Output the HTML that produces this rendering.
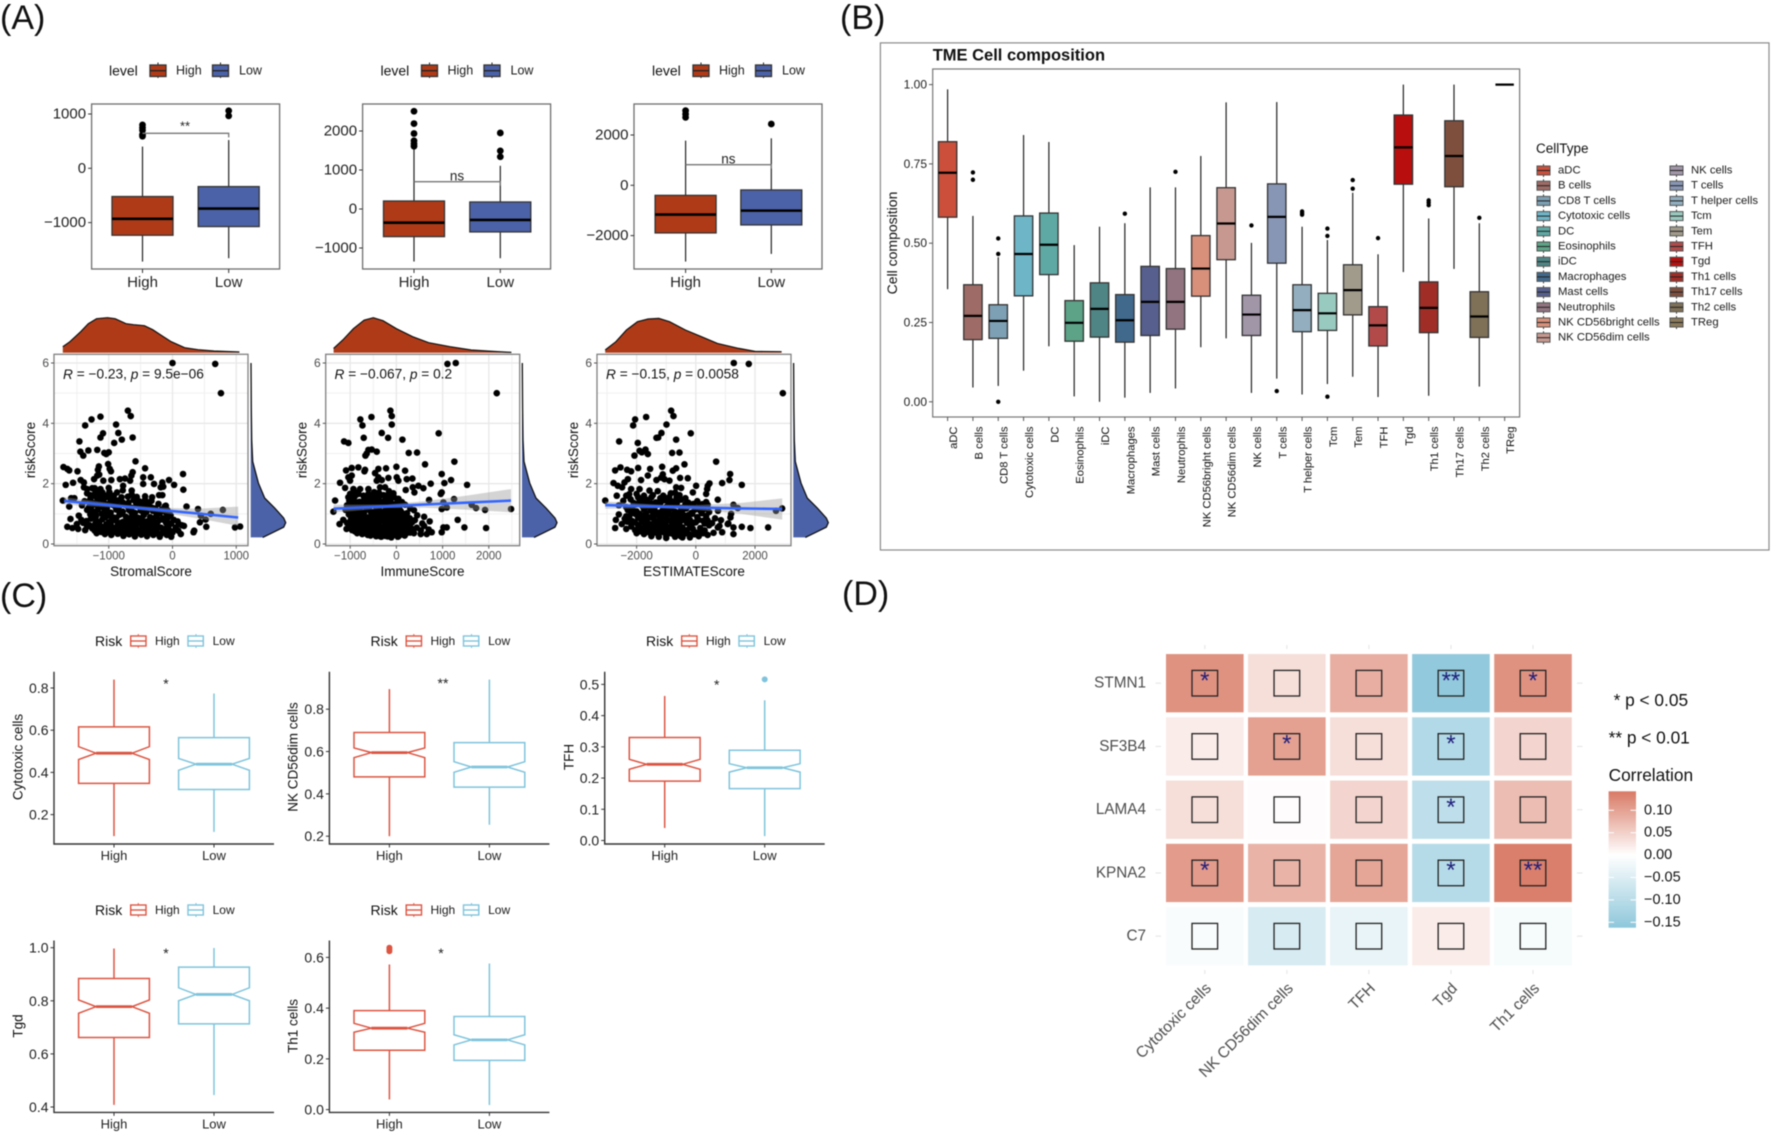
<!DOCTYPE html>
<html lang="en">
<head>
<meta charset="utf-8">
<title>TME composition figure</title>
<style>
html,body{margin:0;padding:0;background:#fff}
body{width:1772px;height:1134px;overflow:hidden}
svg{display:block;font-family:"Liberation Sans",Arial,sans-serif;filter:blur(.4px)}
text{dominant-baseline:central}
.lg{font-size:12.5px;fill:#1a1a1a}
.lc{font-size:12px;fill:#1a1a1a}
.lt{font-size:14px;fill:#111}
.pl{font-size:34px;fill:#111}
.ax{font-size:13.5px;fill:#111}
.rv{font-size:13.7px;fill:#111}
</style>
</head>
<body>
<svg id="figure" width="1772" height="1134" viewBox="0 0 1772 1134" xmlns="http://www.w3.org/2000/svg">
<defs>
<linearGradient id="corr-gradient" x1="0" y1="0" x2="0" y2="1">
<stop offset="0" stop-color="#D97A65"/><stop offset="0.467" stop-color="#ffffff"/><stop offset="1" stop-color="#8EC7DB"/>
</linearGradient>
</defs>
<rect width="1772" height="1134" fill="#fff"/>

<text class="pl" x="0" y="18">(A)</text>
<text class="pl" x="840" y="18">(B)</text>
<text class="pl" x="0" y="596">(C)</text>
<text class="pl" x="842" y="594">(D)</text>

<!-- Panel A legends -->
<g>
<text class="lt" x="109" y="70.7">level</text>
<line x1="158" x2="158" y1="62.5" y2="78" stroke="#222"/><rect x="150" y="65" width="16" height="11.5" fill="#AF3A17" stroke="#333" stroke-width="1.3"/><line x1="150" x2="166" y1="70.7" y2="70.7" stroke="#222" stroke-width="1.3"/>
<text class="lg" x="176" y="70.7">High</text>
<line x1="220.5" x2="220.5" y1="62.5" y2="78" stroke="#222"/><rect x="212.5" y="65" width="16" height="11.5" fill="#4C62A8" stroke="#333" stroke-width="1.3"/><line x1="212.5" x2="228.5" y1="70.7" y2="70.7" stroke="#222" stroke-width="1.3"/>
<text class="lg" x="239" y="70.7">Low</text>
</g>
<g transform="translate(271.5,0)">
<text class="lt" x="109" y="70.7">level</text>
<line x1="158" x2="158" y1="62.5" y2="78" stroke="#222"/><rect x="150" y="65" width="16" height="11.5" fill="#AF3A17" stroke="#333" stroke-width="1.3"/><line x1="150" x2="166" y1="70.7" y2="70.7" stroke="#222" stroke-width="1.3"/>
<text class="lg" x="176" y="70.7">High</text>
<line x1="220.5" x2="220.5" y1="62.5" y2="78" stroke="#222"/><rect x="212.5" y="65" width="16" height="11.5" fill="#4C62A8" stroke="#333" stroke-width="1.3"/><line x1="212.5" x2="228.5" y1="70.7" y2="70.7" stroke="#222" stroke-width="1.3"/>
<text class="lg" x="239" y="70.7">Low</text>
</g>
<g transform="translate(543,0)">
<text class="lt" x="109" y="70.7">level</text>
<line x1="158" x2="158" y1="62.5" y2="78" stroke="#222"/><rect x="150" y="65" width="16" height="11.5" fill="#AF3A17" stroke="#333" stroke-width="1.3"/><line x1="150" x2="166" y1="70.7" y2="70.7" stroke="#222" stroke-width="1.3"/>
<text class="lg" x="176" y="70.7">High</text>
<line x1="220.5" x2="220.5" y1="62.5" y2="78" stroke="#222"/><rect x="212.5" y="65" width="16" height="11.5" fill="#4C62A8" stroke="#333" stroke-width="1.3"/><line x1="212.5" x2="228.5" y1="70.7" y2="70.7" stroke="#222" stroke-width="1.3"/>
<text class="lg" x="239" y="70.7">Low</text>
</g>

<!-- Panel C legends -->
<g>
<text class="lt" x="95" y="641">Risk</text>
<line x1="138.3" x2="138.3" y1="634" y2="648" stroke="#E0604E"/><rect x="130.7" y="636" width="15.3" height="10" fill="#fff" stroke="#DC5542" stroke-width="1.4"/><line x1="130.7" x2="146" y1="641" y2="641" stroke="#DC5542" stroke-width="1.4"/>
<text class="lc" x="155" y="641">High</text>
<line x1="196" x2="196" y1="634" y2="648" stroke="#7FC4DC"/><rect x="188" y="636" width="15.3" height="10" fill="#fff" stroke="#7FC4DC" stroke-width="1.4"/><line x1="188" x2="203.3" y1="641" y2="641" stroke="#7FC4DC" stroke-width="1.4"/>
<text class="lc" x="212.6" y="641">Low</text>
</g>
<g transform="translate(275.5,0)">
<text class="lt" x="95" y="641">Risk</text>
<line x1="138.3" x2="138.3" y1="634" y2="648" stroke="#E0604E"/><rect x="130.7" y="636" width="15.3" height="10" fill="#fff" stroke="#DC5542" stroke-width="1.4"/><line x1="130.7" x2="146" y1="641" y2="641" stroke="#DC5542" stroke-width="1.4"/>
<text class="lc" x="155" y="641">High</text>
<line x1="196" x2="196" y1="634" y2="648" stroke="#7FC4DC"/><rect x="188" y="636" width="15.3" height="10" fill="#fff" stroke="#7FC4DC" stroke-width="1.4"/><line x1="188" x2="203.3" y1="641" y2="641" stroke="#7FC4DC" stroke-width="1.4"/>
<text class="lc" x="212.6" y="641">Low</text>
</g>
<g transform="translate(551,0)">
<text class="lt" x="95" y="641">Risk</text>
<line x1="138.3" x2="138.3" y1="634" y2="648" stroke="#E0604E"/><rect x="130.7" y="636" width="15.3" height="10" fill="#fff" stroke="#DC5542" stroke-width="1.4"/><line x1="130.7" x2="146" y1="641" y2="641" stroke="#DC5542" stroke-width="1.4"/>
<text class="lc" x="155" y="641">High</text>
<line x1="196" x2="196" y1="634" y2="648" stroke="#7FC4DC"/><rect x="188" y="636" width="15.3" height="10" fill="#fff" stroke="#7FC4DC" stroke-width="1.4"/><line x1="188" x2="203.3" y1="641" y2="641" stroke="#7FC4DC" stroke-width="1.4"/>
<text class="lc" x="212.6" y="641">Low</text>
</g>
<g transform="translate(0,269)">
<text class="lt" x="95" y="641">Risk</text>
<line x1="138.3" x2="138.3" y1="634" y2="648" stroke="#E0604E"/><rect x="130.7" y="636" width="15.3" height="10" fill="#fff" stroke="#DC5542" stroke-width="1.4"/><line x1="130.7" x2="146" y1="641" y2="641" stroke="#DC5542" stroke-width="1.4"/>
<text class="lc" x="155" y="641">High</text>
<line x1="196" x2="196" y1="634" y2="648" stroke="#7FC4DC"/><rect x="188" y="636" width="15.3" height="10" fill="#fff" stroke="#7FC4DC" stroke-width="1.4"/><line x1="188" x2="203.3" y1="641" y2="641" stroke="#7FC4DC" stroke-width="1.4"/>
<text class="lc" x="212.6" y="641">Low</text>
</g>
<g transform="translate(275.5,269)">
<text class="lt" x="95" y="641">Risk</text>
<line x1="138.3" x2="138.3" y1="634" y2="648" stroke="#E0604E"/><rect x="130.7" y="636" width="15.3" height="10" fill="#fff" stroke="#DC5542" stroke-width="1.4"/><line x1="130.7" x2="146" y1="641" y2="641" stroke="#DC5542" stroke-width="1.4"/>
<text class="lc" x="155" y="641">High</text>
<line x1="196" x2="196" y1="634" y2="648" stroke="#7FC4DC"/><rect x="188" y="636" width="15.3" height="10" fill="#fff" stroke="#7FC4DC" stroke-width="1.4"/><line x1="188" x2="203.3" y1="641" y2="641" stroke="#7FC4DC" stroke-width="1.4"/>
<text class="lc" x="212.6" y="641">Low</text>
</g>

<!-- Panel B static text -->
<rect x="880.4" y="42.9" width="888.6" height="507.1" fill="none" stroke="#8a8a8a" stroke-width="1.2"/>
<text x="932.7" y="55.5" font-size="16.5" font-weight="bold" fill="#111">TME Cell composition</text>
<text transform="translate(892,243) rotate(-90)" font-size="14" fill="#111" text-anchor="middle">Cell composition</text>
<text x="1536" y="148.6" font-size="13.5" fill="#111">CellType</text>

<!-- Panel C axis titles -->
<text class="ax" transform="translate(18,757) rotate(-90)" text-anchor="middle">Cytotoxic cells</text>
<text class="ax" transform="translate(293,757) rotate(-90)" text-anchor="middle">NK CD56dim cells</text>
<text class="ax" transform="translate(569,757) rotate(-90)" text-anchor="middle">TFH</text>
<text class="ax" transform="translate(18,1026) rotate(-90)" text-anchor="middle">Tgd</text>
<text class="ax" transform="translate(293,1026) rotate(-90)" text-anchor="middle">Th1 cells</text>

<!-- Panel D legend text -->
<text x="1613.6" y="700" font-size="17.3" fill="#111">* p &lt; 0.05</text>
<text x="1608.6" y="737.7" font-size="17.3" fill="#111">** p &lt; 0.01</text>
<text x="1608.6" y="775" font-size="17.3" fill="#111">Correlation</text>
<rect x="1608.6" y="791.3" width="27.4" height="136.4" fill="url(#corr-gradient)"/>

<!-- Scatter axis labels -->
<text class="ax" x="151" y="571.7" text-anchor="middle">StromalScore</text>
<text class="ax" x="422.5" y="571.7" text-anchor="middle">ImmuneScore</text>
<text class="ax" x="694" y="571.7" text-anchor="middle">ESTIMATEScore</text>
<text class="ax" transform="translate(30.5,450) rotate(-90)" text-anchor="middle">riskScore</text>
<text class="ax" transform="translate(302,450) rotate(-90)" text-anchor="middle">riskScore</text>
<text class="ax" transform="translate(573.5,450) rotate(-90)" text-anchor="middle">riskScore</text>

<g id="charts"></g>

<text x="185" y="126" font-size="13" text-anchor="middle" fill="#222">**</text>
<text x="457" y="176" font-size="13.5" text-anchor="middle" fill="#222">ns</text>
<text x="728.4" y="159" font-size="13.5" text-anchor="middle" fill="#222">ns</text>

<text class="rv" x="63" y="374"><tspan font-style="italic">R</tspan> = −0.23, <tspan font-style="italic">p</tspan> = 9.5e−06</text>
<text class="rv" x="334.5" y="374"><tspan font-style="italic">R</tspan> = −0.067, <tspan font-style="italic">p</tspan> = 0.2</text>
<text class="rv" x="606" y="374"><tspan font-style="italic">R</tspan> = −0.15, <tspan font-style="italic">p</tspan> = 0.0058</text>
</svg>

<script>
// ---------- Panel A: boxplots (whisker low, q1, median, q3, whisker high) ----------
const levelCategories = ['High', 'Low'];
const stromalHighBox = [-1718, -1233, -930, -520, 400];
const stromalLowBox = [-1656, -1073, -742, -337, 520];
const stromalHighOutliers = [800, 750, 700, 620, 590];
const stromalLowOutliers = [1060, 965];
const stromalTicks = [-1000, 0, 1000];
const stromalBracket = 644;
const immuneHighBox = [-1347, -708, -350, 205, 1550];
const immuneLowBox = [-1262, -588, -280, 180, 1108];
const immuneHighOutliers = [2506, 2190, 1935, 1750, 1680, 1610];
const immuneLowOutliers = [1950, 1490, 1340];
const immuneTicks = [-1000, 0, 1000, 2000];
const immuneBracket = 700;
const estimateHighBox = [-3033, -1894, -1165, -400, 1775];
const estimateLowBox = [-2728, -1576, -1007, -185, 1868];
const estimateHighOutliers = [2967, 2834, 2700];
const estimateLowOutliers = [2437];
const estimateTicks = [-2000, 0, 2000];
const estimateBracket = 820;

// ---------- Panel A: scatter values [score, riskScore] ----------
const stromalPoints = [[0,6],[670,5.97],[760,5],[-700,4.42],[-655,4.24],[-1130,4.22],[-1270,4.13],[-1370,3.93],[-885,3.96],[-850,3.68],[-1090,3.67],[-1130,3.53],[-625,3.53],[-795,3.46],[-915,3.35],[-1460,3.4],[-1445,3.06],[-1400,2.93],[-1320,3.1],[-1180,3.12],[-1070,3.02],[-1040,2.98],[-1000,3.04],[-580,2.74],[-1710,2.55],[-1650,2.49],[-1620,2.44],[-1490,2.41],[-1155,2.57],[-1170,2.46],[-1010,2.65],[-985,2.49],[-965,2.41],[-430,2.51],[165,2.32],[-625,2.38],[-645,2.27],[-1675,1.96],[-1560,2.03],[-1440,2.12],[-1390,2.04],[-1230,2.15],[-1180,2.27],[-1150,2.3],[-1085,2.1],[-960,2.12],[-825,2.15],[-745,2.17],[-665,2.1],[-775,1.93],[-460,2.21],[-340,2.21],[-460,1.99],[-160,2.04],[-55,2.12],[25,1.96],[-290,1.99],[-185,1.88],[-145,1.9],[170,1.8],[-210,1.62],[-160,1.62],[-640,1.77],[-640,1.64],[-1390,1.88],[-1340,1.82],[-1260,1.85],[-1130,1.82],[-1000,1.86],[-870,1.71],[-920,1.6],[-1340,1.68],[-1210,1.71],[-1100,1.71],[-1280,1.57],[-1170,1.55],[-1030,1.6],[-1540,1.52],[-1590,1.52],[-1720,1.44],[-1620,1.24],[-1600,.83],[-1470,.94],[-1650,.57],[-1570,.53],[220,1.24],[400,1.16],[600,1],[790,1.13],[445,.94],[520,.81],[430,.72],[530,.57],[330,.39],[-20,.24],[130,.33],[100,.66],[180,.6],[50,.55],[980,.55],[1060,.58],[-105,1.27],[-105,1.05],[340,.44],
[-1380,1.42],[-1290,1.48],[-1190,1.39],[-1090,1.45],[-980,1.37],[-860,1.44],[-610,1.46],[-520,1.41],[-430,1.47],[-330,1.43],[-1420,1.28],[-1310,1.22],[-1220,1.31],[-1120,1.26],[-1030,1.19],[-940,1.3],[-840,1.24],[-740,1.29],[-640,1.2],[-540,1.27],[-450,1.22],[-370,1.3],[-270,1.18],[-120,1.25],[-1340,1.13],[-1250,1.08],[-1170,1.15],[-1060,1.1],[-970,1.04],[-880,1.14],[-780,1.07],[-680,1.12],[-590,1.03],[-500,1.11],[-410,1.06],[-310,1.1],[-200,1.02],[-80,1.12],[-1290,.98],[-1200,.92],[-1110,1],[-1020,.94],[-930,.88],[-830,.97],[-730,.9],[-630,.95],[-540,.87],[-450,.96],[-350,.89],[-250,.93],[-150,.85],[-30,.95],[-1430,.8],[-1280,.84],[-1190,.76],[-1100,.82],[-1000,.72],[-900,.79],[-820,.7],[-720,.78],[-620,.74],[-530,.81],[-430,.71],[-340,.77],[-240,.69],[-130,.79],[-20,.68],[80,.75],[-1500,.66],[-1400,.7],[-1300,.62],[-1210,.68],[-1120,.58],[-1040,.65],[-950,.56],[-860,.63],[-760,.55],[-660,.61],[-570,.53],[-480,.62],[-390,.56],[-290,.63],[-180,.54],[-60,.6],[50,.52],[150,.62],[-1480,.5],[-1370,.46],[-1260,.52],[-1180,.43],[-1090,.49],[-1000,.41],[-910,.48],[-810,.4],[-720,.46],[-620,.38],[-530,.45],[-440,.37],[-330,.44],[-240,.36],[-130,.45],[0,.38],[90,.44],[-1190,.36],[-1060,.33],[-960,.3],[-860,.34],[-770,.27],[-680,.32],[-590,.25],[-490,.31],[-400,.26],[-300,.3],[-200,.24],[-90,.3],[-950,.8],[-850,.55],[-750,.65],[-650,.48],[-550,.7],[-450,.55],[-350,.6],[-250,.5],[-1000,.62],[-800,1],[-700,.55],[-600,.85],[-500,.4],[-400,.75],[-300,.85],[-850,.4],
[-1250,1.36],[-1150,1.33],[-1040,1.32],[-900,1.36],[-780,1.38],[-690,1.37],[-570,1.35],[-480,1.34],[-390,1.36],[-220,1.33],[-1280,1.2],[-1080,1.2],[-890,1.22],[-690,1.21],[-500,1.19],[-320,1.2],[-170,1.14],[-1210,1.03],[-1010,1.05],[-830,1.05],[-640,1.04],[-450,1.02],[-260,1.05],[-90,1.02],[-1240,.88],[-1060,.88],[-880,.87],[-690,.84],[-490,.85],[-300,.76],[-80,.85],[20,.8],[-1350,.76],[-1150,.7],[-970,.66],[-780,.73],[-670,.68],[-470,.78],[-200,.8],[-100,.7],[-1340,.58],[-1170,.58],[-1050,.52],[-880,.48],[-680,.52],[-600,.63],[-440,.47],[-280,.56],[-100,.52],[-1220,.44],[-1120,.4],[-1020,.52],[-770,.38],[-580,.32],[-380,.36],[-180,.34],[-40,.44],[-950,.38],[-700,.4],[-1290,1.62],[-1210,1.58],[-1130,1.52],[-1060,1.53],[-980,1.52],[-800,1.55],[-700,1.57],[-560,1.56],[-430,1.58],[-320,1.55],[-1220,1.85],[-1130,1.7],[-780,1.78],[-990,1.72],[-900,1.45]];
const immunePoints = [[1105,5.97],[1285,6],[2172,5],[-130,4.42],[-100,4.24],[-540,4.21],[-780,4.13],[-735,3.93],[-100,3.96],[915,3.67],[-317,3.68],[-707,3.52],[-180,3.52],[130,3.46],[-1133,3.4],[-1040,3.35],[-606,3.12],[-534,3.13],[-425,3.06],[-642,3],[-670,2.93],[267,3.02],[447,3.03],[1255,2.73],[620,2.64],[0,2.56],[-967,2.52],[-823,2.54],[-1090,2.44],[-678,2.46],[-692,2.41],[-390,2.49],[-224,2.51],[-462,2.35],[188,2.43],[981,2.32],[-967,2.27],[-1040,2.21],[-1220,2.03],[-1003,2.1],[-390,2.21],[-173,2.19],[-317,2.12],[-425,2.1],[7,2.21],[43,2.1],[224,2.15],[346,2.17],[1183,2.12],[1039,2.02],[743,2],[476,1.93],[584,1.85],[354,1.88],[202,1.79],[390,1.71],[981,1.71],[960,1.66],[1530,1.96],[-65,1.68],[-245,1.88],[-354,1.88],[-606,1.82],[-786,1.82],[-930,1.82],[-1110,1.86],[-1003,1.66],[-1040,1.55],[-1327,1.44],[-1363,1.07],[-606,1.66],[-714,1.6],[-820,1.66],[-245,1.6],[-136,1.44],[43,1.5],[1248,1.49],[1017,1.38],[707,1.46],[1630,1.3],[1724,1.19],[1919,1.13],[2482,1.16],[1327,.8],[1472,.55],[1941,.53],[1090,.55],[981,.39],[1017,.55],[981,1.16],[1090,1.21],[765,.39],[657,.33],[527,.33],
[-1020,1.43],[-930,1.48],[-800,1.4],[-700,1.46],[-600,1.38],[-480,1.45],[-350,1.41],[-240,1.47],[-120,1.37],[30,1.42],[120,1.39],[-1070,1.28],[-960,1.22],[-870,1.31],[-760,1.25],[-650,1.19],[-560,1.3],[-440,1.23],[-320,1.29],[-200,1.2],[-80,1.27],[60,1.22],[190,1.3],[300,1.18],[-1100,1.13],[-1000,1.08],[-900,1.15],[-790,1.1],[-700,1.04],[-590,1.14],[-470,1.07],[-370,1.12],[-260,1.03],[-140,1.11],[-30,1.06],[90,1.1],[230,1.02],[380,1.12],[-1030,.98],[-930,.92],[-830,1],[-730,.94],[-620,.88],[-520,.97],[-400,.9],[-290,.95],[-190,.87],[-70,.96],[50,.89],[180,.93],[290,.85],[450,.95],[600,.9],[-1150,.8],[-980,.84],[-870,.76],[-770,.82],[-670,.72],[-560,.79],[-450,.7],[-350,.78],[-230,.74],[-120,.81],[-10,.71],[120,.77],[250,.69],[400,.79],[560,.68],[720,.75],[-1230,.66],[-1070,.7],[-950,.62],[-850,.68],[-740,.58],[-640,.65],[-530,.56],[-420,.63],[-310,.55],[-200,.61],[-90,.53],[30,.62],[150,.56],[290,.63],[440,.54],[600,.6],[-1080,.5],[-960,.46],[-860,.52],[-760,.43],[-650,.49],[-550,.41],[-440,.48],[-330,.4],[-230,.46],[-120,.38],[0,.45],[110,.37],[240,.44],[380,.36],[530,.45],[700,.48],[-850,.36],[-740,.33],[-620,.3],[-510,.34],[-400,.27],[-300,.32],[-190,.25],[-80,.31],[50,.26],[160,.3],[300,.38],[-560,.28],[-440,.26],[-330,.24],[-210,.3],[-110,.22],[30,.24],[180,.28],[-500,.7],[-400,.55],[-300,.8],[-200,.45],[-100,.65],[0,.85],[100,.55],[-600,.6],[-700,.8],[-350,1],[-250,.7],
[-960,1.36],[-850,1.38],[-740,1.33],[-640,1.34],[-520,1.37],[-400,1.34],[-290,1.36],[-170,1.3],[-20,1.33],[-1000,1.2],[-810,1.2],[-610,1.24],[-400,1.18],[-230,1.14],[-40,1.16],[-960,1.03],[-760,1.02],[-550,1.05],[-340,1.05],[-160,1.02],[30,.98],[130,1.02],[-880,.9],[-680,.87],[-470,.84],[-250,.86],[-40,.85],[80,.85],[200,.82],[-1000,.74],[-800,.72],[-600,.72],[-380,.7],[-150,.72],[60,.68],[200,.7],[340,.72],[-1000,.6],[-800,.55],[-590,.53],[-370,.5],[-170,.54],[-30,.5],[70,.47],[190,.5],[340,.5],[-900,.42],[-700,.4],[-500,.44],[-280,.38],[-70,.4],[80,.36],[220,.36],[-630,.4],[-450,.33],[-240,.27],[-40,.3],[-690,1.57],[-590,1.54],[-490,1.58],[-380,1.55],[-280,1.62],[-150,1.56],[-50,1.55],[-900,1.58],[-480,1.72],[-380,1.7],[-900,1.72],[-160,1.75]];
const estimatePoints = [[1284,6],[1790,5.97],[2940,5],[-833,4.42],[-754,4.24],[-1678,4.21],[-2050,4.13],[-2117,3.93],[-990,3.96],[-1160,3.68],[-170,3.67],[-1330,3.52],[-1270,3.53],[-664,3.46],[-2590,3.4],[-1960,3.35],[-1700,3.13],[-1900,3.09],[-1824,3.04],[-1620,2.98],[-2072,2.93],[-800,3.02],[-552,3.03],[687,2.73],[-383,2.64],[-1137,2.56],[-2545,2.54],[-2725,2.44],[-2320,2.46],[-2185,2.41],[-1948,2.52],[-1543,2.49],[-664,2.51],[-777,2.43],[1160,2.32],[1137,2.12],[890,2.02],[1554,1.96],[462,2.01],[405,1.93],[383,1.82],[350,1.66],[11,1.93],[-100,1.71],[-270,2.18],[-530,2.19],[-1115,2.31],[-1170,2.2],[-1060,2.15],[-1330,2.12],[-890,2.1],[-1620,2.27],[-1850,2.12],[-2295,2.15],[-2410,2.04],[-2780,2.02],[-2635,1.93],[-2490,1.88],[-2185,1.82],[-1900,1.82],[-1565,1.77],[-1285,1.75],[-664,1.88],[-495,1.86],[-845,1.68],[-2670,1.6],[-3060,1.44],[743,1.47],[1272,1.3],[1419,1.19],[2710,1.1],[2916,1.18],[1193,1],[1171,.88],[1080,.66],[1272,.55],[1554,.57],[1846,.53],[2443,.55],[1272,.33],[890,.39],[743,.55],[-2725,.53],[-2000,1.66],[-1750,1.6],[-2250,1.65],[-1450,1.62],[-1100,1.6],
[-2450,1.43],[-2200,1.48],[-1900,1.4],[-1650,1.46],[-1350,1.38],[-1050,1.45],[-800,1.41],[-500,1.47],[-250,1.37],[50,1.42],[350,1.39],[-2600,1.28],[-2350,1.22],[-2050,1.31],[-1800,1.25],[-1550,1.19],[-1300,1.3],[-1000,1.23],[-750,1.29],[-500,1.2],[-200,1.27],[100,1.22],[400,1.3],[-2300,1.13],[-2000,1.08],[-1750,1.15],[-1500,1.1],[-1250,1.04],[-950,1.14],[-700,1.07],[-450,1.12],[-150,1.03],[150,1.11],[450,1.06],[750,1.1],[-2600,.98],[-2350,.92],[-2050,1],[-1800,.94],[-1550,.88],[-1300,.97],[-1050,.9],[-800,.95],[-550,.87],[-250,.96],[50,.89],[350,.93],[650,.85],[-2700,.8],[-2400,.84],[-2150,.76],[-1850,.82],[-1650,.72],[-1400,.79],[-1100,.7],[-900,.78],[-600,.74],[-350,.81],[-50,.71],[250,.77],[550,.69],[850,.79],[1100,.68],[-2500,.66],[-2200,.7],[-1950,.62],[-1700,.68],[-1450,.58],[-1200,.65],[-950,.56],[-700,.63],[-450,.55],[-150,.61],[150,.53],[450,.62],[800,.6],[-2350,.5],[-2050,.46],[-1800,.52],[-1550,.43],[-1300,.49],[-1050,.41],[-800,.48],[-550,.4],[-300,.46],[0,.38],[300,.45],[600,.37],[-2000,.36],[-1750,.33],[-1500,.3],[-1250,.34],[-1000,.27],[-750,.32],[-500,.25],[-200,.31],[100,.26],[400,.3],[-1500,.26],[-1250,.24],[-1000,.2],[-700,.24],[-450,.22],[-200,.22],[100,.34],[-1400,.6],[-1200,.85],[-1000,.5],[-800,.7],[-600,.45],[-400,.85],[-200,.55],[-1600,.6],[-1100,1.05],[-600,1],[-900,.38],
[-2100,1.36],[-1780,1.36],[-1500,1.34],[-1200,1.35],[-920,1.36],[-640,1.36],[-350,1.32],[-80,1.33],[220,1.32],[-2150,1.18],[-1650,1.3],[-1400,1.15],[-1120,1.12],[-830,1.18],[-580,1.04],[-320,1.18],[-30,1.14],[280,1.16],[-2180,1.02],[-1900,1],[-1680,1.02],[-1430,1],[-1180,1.02],[-900,1],[-680,.98],[-400,.95],[-120,1],[200,1.02],[-2250,.9],[-1950,.88],[-1720,.84],[-1480,.9],[-1220,.78],[-1000,.85],[-720,.86],[-480,.78],[-200,.8],[100,.8],[400,.78],[-2320,.74],[-2050,.72],[-1820,.74],[-1560,.66],[-1320,.72],[-1030,.64],[-820,.6],[-560,.66],[-300,.7],[0,.72],[300,.68],[-2180,.58],[-1900,.56],[-1650,.53],[-1420,.48],[-1170,.52],[-880,.5],[-650,.52],[-420,.47],[-100,.5],[180,.46],[-1880,.42],[-1630,.4],[-1380,.38],[-1120,.4],[-850,.36],[-620,.32],[-350,.35],[-50,.32],[250,.36],[-1780,1.5],[-1500,1.55],[-1200,1.52],[-900,1.55],[-650,1.55],[-350,1.52],[-2350,1.6],[-1950,1.55],[-700,1.7],[-550,1.62]];

// ---------- Panel A: linear fits and densities ----------
const stromalFitX = [-1700, -800, -200, 400, 1030];
const stromalFit = [1.43, 1.25, 1.13, 1.01, .88];
const stromalFitUpper = [1.55, 1.31, 1.2, 1.17, 1.24];
const stromalFitLower = [1.31, 1.19, 1.05, .85, .6];
const immuneFitX = [-1360, -200, 600, 1500, 2480];
const immuneFit = [1.17, 1.25, 1.31, 1.37, 1.44];
const immuneFitUpper = [1.3, 1.31, 1.42, 1.6, 1.82];
const immuneFitLower = [1.04, 1.19, 1.2, 1.14, 1.05];
const estimateFitX = [-3060, -1200, 0, 1500, 2920];
const estimateFit = [1.29, 1.24, 1.21, 1.18, 1.16];
const estimateFitUpper = [1.41, 1.3, 1.29, 1.36, 1.51];
const estimateFitLower = [1.17, 1.18, 1.13, 1, .81];

const stromalDensityX = [-1720, -1610, -1440, -1320, -1190, -1020, -900, -730, -610, -440, -310, -190, -20, 190, 400, 650, 1050];
const stromalDensity = [6, 11, 21, 29, 34, 35, 34, 29, 28, 27, 23, 18, 11, 5, 3, 1.7, .7];
const immuneDensityX = [-1360, -1160, -930, -700, -500, -290, 0, 350, 700, 1160, 1620, 2090, 2490];
const immuneDensity = [4.3, 12.7, 24, 32.5, 35, 32, 24, 16, 10, 6, 2.7, 1.3, .3];
const estimateDensityX = [-3060, -2700, -2340, -1970, -1610, -1250, -890, -350, 190, 730, 1450, 2000, 2900];
const estimateDensity = [2.7, 11, 22.7, 31, 33.7, 34.3, 31, 22.7, 16, 9.3, 4.3, 1.3, 1];
const riskDensityY = [.22, .36, .56, .71, .86, 1.19, 1.52, 2.02, 2.73, 3.45, 4.5, 6];
const riskDensity = [12, 21, 33, 35, 33, 24, 14, 7.7, 2, 1, .6, .3];
const riskTicks = [0, 2, 4, 6];
const riskMinorTicks = [1, 3, 5];

// ---------- Panel B: cell composition boxes ----------
const cellTypes = ['aDC','B cells','CD8 T cells','Cytotoxic cells','DC','Eosinophils','iDC','Macrophages','Mast cells','Neutrophils','NK CD56bright cells','NK CD56dim cells','NK cells','T cells','T helper cells','Tcm','Tem','TFH','Tgd','Th1 cells','Th17 cells','Th2 cells','TReg'];
const cellColors = ['#CB4F3B','#9E6B66','#7DA0B4','#6FB5C8','#5FA9A4','#5CA388','#4F8585','#41698C','#565F8E','#917480','#D9907A','#C69890','#A195A8','#8896B5','#93AEBF','#99CABF','#A19B8C','#B34A4A','#B80E0E','#A12D27','#7F4F3E','#7F7058','#8A7A5A'];
const cellWhiskerLow = [.355,.045,.05,.098,.175,.017,0,.013,.028,.042,.172,.2,.028,.073,.023,.056,.079,.015,.409,.019,.419,.048,1];
const cellQ1 = [.582,.196,.2,.334,.401,.191,.204,.188,.209,.229,.333,.448,.209,.437,.221,.225,.274,.176,.686,.218,.678,.203,1];
const cellMedian = [.722,.271,.255,.466,.495,.249,.293,.257,.315,.315,.42,.562,.275,.583,.289,.279,.352,.241,.802,.296,.775,.269,1];
const cellQ3 = [.82,.369,.306,.586,.595,.319,.375,.338,.427,.42,.524,.675,.336,.687,.369,.342,.432,.3,.904,.378,.886,.347,1];
const cellWhiskerHigh = [.985,.586,.456,.841,.819,.494,.552,.563,.676,.676,.775,.944,.501,.945,.552,.51,.659,.465,1,.578,1,.563,1];
const cellOutliers = [[],[.723,.7],[.515,.466,0],[],[],[],[],[.593],[],[.725],[],[],[.556],[.034],[.6,.595,.59],[.546,.523,.016],[.699,.672],[.516],[],[.635,.628,.62],[],[.58],[]];
const compositionTicks = [0, .25, .5, .75, 1];

// ---------- Panel C: notched boxes (whisker low, q1, notch low, median, notch high, q3, whisker high) ----------
const riskCategories = ['High', 'Low'];
const cytotoxicHigh = [.098, .348, .461, .491, .522, .616, .84];
const cytotoxicLow = [.118, .319, .41, .439, .466, .565, .774];
const nkDimHigh = [.2, .48, .571, .595, .617, .69, .895];
const nkDimLow = [.254, .432, .502, .527, .552, .642, .94];
const tfhHigh = [.04, .19, .228, .244, .26, .33, .463];
const tfhLow = [.014, .166, .219, .233, .246, .289, .449];
const tfhLowOutliers = [.516];
const tgdHigh = [.408, .662, .753, .778, .803, .884, .997];
const tgdLow = [.445, .713, .8, .824, .849, .927, .999];
const th1High = [.04, .234, .305, .321, .34, .39, .572];
const th1Low = [.018, .194, .255, .275, .295, .367, .576];
const th1HighOutliers = [.638, .631, .624];
const cytotoxicTicks = [.2, .4, .6, .8];
const nkDimTicks = [.2, .4, .6, .8];
const tfhTicks = [0, .1, .2, .3, .4, .5];
const tgdTicks = [.4, .6, .8, 1];
const th1Ticks = [0, .2, .4, .6];

// ---------- Panel D: correlation heatmap ----------
const heatRows = ['STMN1', 'SF3B4', 'LAMA4', 'KPNA2', 'C7'];
const heatCols = ['Cytotoxic cells', 'NK CD56dim cells', 'TFH', 'Tgd', 'Th1 cells'];
const heatValues = [
  [.115, .035, .085, -.15, .115],
  [.02, .1, .035, -.105, .045],
  [.035, .003, .045, -.09, .07],
  [.105, .08, .095, -.1, .135],
  [-.008, -.055, -.03, .02, -.012]
];
const heatMarks = [
  ['*', '', '', '**', '*'],
  ['', '*', '', '*', ''],
  ['', '', '', '*', ''],
  ['*', '', '', '*', '**'],
  ['', '', '', '', '']
];
const colorbarTicks = [.1, .05, 0, -.05, -.1, -.15];

// ---------- helpers ----------
const NS = 'http://www.w3.org/2000/svg';
const root = document.getElementById('charts');
function mk(tag, attrs, parent) {
  const e = document.createElementNS(NS, tag);
  for (const k in attrs) e.setAttribute(k, attrs[k]);
  (parent || root).appendChild(e);
  return e;
}
function label(x, y, s, attrs, parent) {
  const e = mk('text', Object.assign({x: x, y: y}, attrs), parent);
  e.textContent = s;
  return e;
}
function linear(d0, r0, d1, r1) {
  return v => r0 + (v - d0) * (r1 - r0) / (d1 - d0);
}
function fmt(v, digits) {
  return (digits === undefined ? String(v) : v.toFixed(digits)).replace('-', '−');
}
function group(name) {
  const g = mk('g', {});
  
  
  return g;
}

function drawBox(parent, name, cx, halfW, y, s, outliers, fill, r, medW) {
  const g = mk('g', {}, parent);
  
  
  mk('line', {x1: cx, x2: cx, y1: y(s[0]), y2: y(s[1]), stroke: '#222', 'stroke-width': 1.2}, g);
  mk('line', {x1: cx, x2: cx, y1: y(s[3]), y2: y(s[4]), stroke: '#222', 'stroke-width': 1.2}, g);
  mk('rect', {x: cx - halfW, y: y(s[3]), width: 2 * halfW, height: Math.max(0, y(s[1]) - y(s[3])), fill: fill, stroke: '#333', 'stroke-width': 1.3}, g);
  mk('line', {x1: cx - halfW, x2: cx + halfW, y1: y(s[2]), y2: y(s[2]), stroke: '#000', 'stroke-width': medW}, g);
  outliers.forEach(o => mk('circle', {cx: cx, cy: y(o), r: r, fill: '#000'}, g));
}

function drawLevelBoxplot(name, left, xHigh, xLow, y, ticks, high, low, highOut, lowOut, bracket) {
  const top = 104, bottom = 269;
  const g = group('boxplot-' + name);
  mk('rect', {x: left, y: top, width: 188, height: bottom - top, fill: '#fff', stroke: '#6e6e6e', 'stroke-width': 1.3}, g);
  ticks.forEach(t => {
    mk('line', {x1: left - 3.5, x2: left, y1: y(t), y2: y(t), stroke: '#333'}, g);
    label(left - 5.5, y(t), fmt(t), {'font-size': 15, 'text-anchor': 'end', fill: '#222'}, g);
  });
  [xHigh, xLow].forEach((x, i) => {
    mk('line', {x1: x, x2: x, y1: bottom, y2: bottom + 4, stroke: '#333'}, g);
    label(x, 282.5, levelCategories[i], {'font-size': 15, 'text-anchor': 'middle', fill: '#222'}, g);
  });
  drawBox(g, name + '-box-high', xHigh, 30.5, y, high, highOut, '#AF3A17', 3.4, 2.6);
  drawBox(g, name + '-box-low', xLow, 30.5, y, low, lowOut, '#4C62A8', 3.4, 2.6);
  const bracketLine = mk('path', {d: `M${xHigh} ${y(bracket)}H${xLow}V${y(bracket) + 4}`, fill: 'none', stroke: '#777', 'stroke-width': 1.3}, g);
  
  
}

function areaPath(pts) {
  return 'M' + pts.map(p => p[0].toFixed(1) + ' ' + p[1].toFixed(1)).join('L');
}

function drawScatter(name, left, x, majors, minors, points, fitX, fit, upper, lower, densX, dens, densBase) {
  const top = 354.3, bottom = 545.7, right = left + 194;
  const y = linear(0, 544, 6, 363);
  const g = group('scatter-' + name);
  mk('rect', {x: left, y: top, width: 194, height: bottom - top, fill: '#fff'}, g);
  minors.forEach(t => mk('line', {x1: x(t), x2: x(t), y1: top, y2: bottom, stroke: '#f0f0f0', 'stroke-width': 1}, g));
  riskMinorTicks.forEach(t => mk('line', {x1: left, x2: right, y1: y(t), y2: y(t), stroke: '#f0f0f0', 'stroke-width': 1}, g));
  majors.forEach(t => mk('line', {x1: x(t), x2: x(t), y1: top, y2: bottom, stroke: '#e8e8e8', 'stroke-width': 1.3}, g));
  riskTicks.forEach(t => mk('line', {x1: left, x2: right, y1: y(t), y2: y(t), stroke: '#e8e8e8', 'stroke-width': 1.3}, g));
  points.forEach(p => {
    const c = mk('circle', {cx: x(p[0]), cy: y(p[1]), r: 3.3, fill: '#000'}, g);
    
    
  });
  const bandTop = fitX.map((v, i) => [x(v), y(upper[i])]);
  const bandBottom = fitX.map((v, i) => [x(v), y(lower[i])]).reverse();
  const band = mk('path', {d: areaPath(bandTop.concat(bandBottom)) + 'Z', fill: '#999', 'fill-opacity': .42}, g);
  
  
  const fitLine = mk('path', {d: areaPath(fitX.map((v, i) => [x(v), y(fit[i])])), fill: 'none', stroke: '#3366FF', 'stroke-width': 2.6}, g);
  
  
  mk('rect', {x: left, y: top, width: 194, height: bottom - top, fill: 'none', stroke: '#7f7f7f', 'stroke-width': 1.3}, g);
  riskTicks.forEach(t => {
    mk('line', {x1: left - 3, x2: left, y1: y(t), y2: y(t), stroke: '#555'}, g);
    label(left - 5, y(t), fmt(t), {'font-size': 12, 'text-anchor': 'end', fill: '#4d4d4d'}, g);
  });
  majors.forEach(t => {
    mk('line', {x1: x(t), x2: x(t), y1: bottom, y2: bottom + 3, stroke: '#555'}, g);
    label(x(t), 556.5, fmt(t), {'font-size': 11.5, 'text-anchor': 'middle', fill: '#4d4d4d'}, g);
  });
  // marginal density, top
  const topBase = 352.7;
  const topPts = densX.map((v, i) => [x(v), topBase - dens[i]]);
  const topFill = [[topPts[0][0], topBase]].concat(topPts, [[topPts[topPts.length - 1][0], topBase]]);
  const topArea = mk('path', {d: areaPath(topFill) + 'Z', fill: '#AF3A17'}, g);
  
  
  mk('path', {d: areaPath(topPts), fill: 'none', stroke: '#111', 'stroke-width': 1.2}, g);
  // marginal density, right
  const rightPts = riskDensityY.map((v, i) => [densBase + riskDensity[i], y(v)]);
  const rightFill = [[densBase, rightPts[0][1]]].concat(rightPts, [[densBase, y(6)]]);
  const rightArea = mk('path', {d: areaPath(rightFill) + 'Z', fill: '#4C62A8'}, g);
  
  
  mk('path', {d: areaPath(rightPts), fill: 'none', stroke: '#111', 'stroke-width': 1.3}, g);
}

function drawNotched(parent, name, cx, y, s, outliers, color) {
  const hw = 35.4, nw = 18;
  const g = mk('g', {}, parent);
  
  
  const st = {stroke: color, 'stroke-width': 1.5, fill: 'none'};
  mk('line', Object.assign({x1: cx, x2: cx, y1: y(s[0]), y2: y(s[1])}, st), g);
  mk('line', Object.assign({x1: cx, x2: cx, y1: y(s[5]), y2: y(s[6])}, st), g);
  const d = `M${cx - hw} ${y(s[1])}H${cx + hw}V${y(s[2])}L${cx + nw} ${y(s[3])}L${cx + hw} ${y(s[4])}V${y(s[5])}H${cx - hw}V${y(s[4])}L${cx - nw} ${y(s[3])}L${cx - hw} ${y(s[2])}Z`;
  mk('path', Object.assign({d: d}, st), g);
  mk('line', {x1: cx - nw, x2: cx + nw, y1: y(s[3]), y2: y(s[3]), stroke: color, 'stroke-width': 2.8}, g);
  outliers.forEach(o => mk('circle', {cx: cx, cy: y(o), r: 3, fill: color}, g));
}

function drawRiskBoxplot(name, left, top, bottom, y, ticks, digits, high, low, highOut, lowOut, mark, markX, markY) {
  const g = group('notched-boxplot-' + name);
  const xH = left + 60, xL = left + 160;
  mk('path', {d: `M${left} ${top}V${bottom}H${left + 220}`, fill: 'none', stroke: '#333', 'stroke-width': 1.4}, g);
  ticks.forEach(t => {
    mk('line', {x1: left - 3.5, x2: left, y1: y(t), y2: y(t), stroke: '#333'}, g);
    label(left - 5.5, y(t), fmt(t, digits), {'font-size': 14, 'text-anchor': 'end', fill: '#222'}, g);
  });
  [xH, xL].forEach((x, i) => {
    mk('line', {x1: x, x2: x, y1: bottom, y2: bottom + 3.5, stroke: '#333'}, g);
    label(x, bottom + 11.5, riskCategories[i], {'font-size': 13, 'text-anchor': 'middle', fill: '#222'}, g);
  });
  drawNotched(g, name + '-box-high', xH, y, high, highOut, '#DC5542');
  drawNotched(g, name + '-box-low', xL, y, low, lowOut, '#7FC4DC');
  const sig = label(markX, markY + 2, mark, {'font-size': 14, 'text-anchor': 'middle', fill: '#222'}, g);
  
  
}

// ---------- Panel A ----------
drawLevelBoxplot('stromal', 91.6, 142.5, 228.7, linear(0, 168.3, 1000, 114), stromalTicks, stromalHighBox, stromalLowBox, stromalHighOutliers, stromalLowOutliers, stromalBracket);
drawLevelBoxplot('immune', 362.6, 414, 500.3, linear(0, 209, 2000, 131), immuneTicks, immuneHighBox, immuneLowBox, immuneHighOutliers, immuneLowOutliers, immuneBracket);
drawLevelBoxplot('estimate', 634, 685.6, 771.3, linear(0, 185.3, 2000, 135), estimateTicks, estimateHighBox, estimateLowBox, estimateHighOutliers, estimateLowOutliers, estimateBracket);

drawScatter('stromal', 54, linear(0, 172.5, 1000, 236.25), stromalTicks, [-1500, -500, 500], stromalPoints, stromalFitX, stromalFit, stromalFitUpper, stromalFitLower, stromalDensityX, stromalDensity, 250.7);
drawScatter('immune', 325.7, linear(0, 396.4, 1000, 442.6), immuneTicks, [-500, 500, 1500, 2500], immunePoints, immuneFitX, immuneFit, immuneFitUpper, immuneFitLower, immuneDensityX, immuneDensity, 522);
drawScatter('estimate', 597, linear(0, 695.8, 2000, 755), estimateTicks, [-3000, -1000, 1000], estimatePoints, estimateFitX, estimateFit, estimateFitUpper, estimateFitLower, estimateDensityX, estimateDensity, 793.3);

// ---------- Panel B ----------
(function () {
  const g = group('cell-composition-boxplot');
  const y = linear(0, 401.8, 1, 84.6);
  const x = i => 947.6 + i * 25.32;
  mk('rect', {x: 932.7, y: 69, width: 586.9, height: 348, fill: '#fff', stroke: '#777', 'stroke-width': 1.2}, g);
  compositionTicks.forEach(t => {
    mk('line', {x1: 929, x2: 932.7, y1: y(t), y2: y(t), stroke: '#555'}, g);
    label(927, y(t), t.toFixed(2), {'font-size': 12, 'text-anchor': 'end', fill: '#222'}, g);
  });
  cellTypes.forEach((name, i) => {
    const slug = name.toLowerCase().replace(/ /g, '-');
    const stats = [cellWhiskerLow[i], cellQ1[i], cellMedian[i], cellQ3[i], cellWhiskerHigh[i]];
    drawBox(g, 'box-' + slug, x(i), 9.2, y, stats, cellOutliers[i], cellColors[i], 2.2, 2.2);
    mk('line', {x1: x(i), x2: x(i), y1: 417, y2: 421, stroke: '#555'}, g);
    const cx = x(i) + 9.5;
    const t = label(cx, 426.5, name, {'font-size': 11.2, 'text-anchor': 'end', fill: '#111', style: 'dominant-baseline:alphabetic', transform: `rotate(-90 ${cx} 426.5)`}, g);
    
    
    // legend entry
    const col = i < 12 ? 0 : 1;
    const row = i < 12 ? i : i - 12;
    const kx = col ? 1670 : 1537;
    const ky = 170.5 + row * 15.2;
    const lg = mk('g', {}, g);
    
    
    mk('line', {x1: kx + 6.5, x2: kx + 6.5, y1: ky - 6.5, y2: ky + 6.5, stroke: '#333'}, lg);
    mk('rect', {x: kx, y: ky - 4.5, width: 13, height: 9, fill: cellColors[i], stroke: '#555'}, lg);
    mk('line', {x1: kx, x2: kx + 13, y1: ky, y2: ky, stroke: '#222'}, lg);
    label(kx + 21, ky, name, {'font-size': 11.3, fill: '#1a1a1a'}, lg);
  });
})();

// ---------- Panel C ----------
drawRiskBoxplot('cytotoxic', 54, 671.8, 844, linear(.8, 688, .2, 814.6), cytotoxicTicks, 1, cytotoxicHigh, cytotoxicLow, [], [], '*', 166, 681.5);
drawRiskBoxplot('nk-cd56dim', 329.4, 671.8, 844, linear(.8, 709.2, .2, 836.2), nkDimTicks, 1, nkDimHigh, nkDimLow, [], [], '**', 443, 681);
drawRiskBoxplot('tfh', 604.7, 671.8, 844, linear(.5, 684.4, 0, 840.5), tfhTicks, 1, tfhHigh, tfhLow, [], tfhLowOutliers, '*', 716.7, 682.6);
drawRiskBoxplot('tgd', 54, 940.5, 1112.4, linear(1, 947.7, .4, 1107), tgdTicks, 1, tgdHigh, tgdLow, [], [], '*', 166, 951);
drawRiskBoxplot('th1', 329.4, 940.5, 1112.4, linear(.6, 957.4, 0, 1109.6), th1Ticks, 1, th1High, th1Low, th1HighOutliers, [], '*', 441, 951);

// ---------- Panel D ----------
(function () {
  const g = group('correlation-heatmap');
  const hi = [217, 122, 101], lo = [142, 199, 219];
  function heatColor(v) {
    const c = v >= 0 ? hi : lo;
    const t = Math.min(1, v >= 0 ? v / .14 : -v / .155);
    return 'rgb(' + c.map(k => Math.round(255 + (k - 255) * t)).join(',') + ')';
  }
  const cx = i => 1204.8 + i * 82.05;
  const cy = i => 683.2 + i * 63.25;
  const w = 77.6, h = 58.3;
  heatRows.forEach((name, r) => {
    const t = label(1146, cy(r), name, {'font-size': 15.3, 'text-anchor': 'end', fill: '#4d4d4d'}, g);
    
    
    mk('line', {x1: 1155.5, x2: 1161, y1: cy(r), y2: cy(r), stroke: '#e3e3e3'}, g);
    mk('line', {x1: 1577, x2: 1582.5, y1: cy(r), y2: cy(r), stroke: '#e3e3e3'}, g);
    heatCols.forEach((col, c) => {
      const cell = mk('rect', {x: cx(c) - w / 2, y: cy(r) - h / 2, width: w, height: h, fill: heatColor(heatValues[r][c])}, g);
      
      
      mk('rect', {x: cx(c) - 12.8, y: cy(r) - 12.8, width: 25.6, height: 25.6, fill: 'none', stroke: '#222', 'stroke-width': 1.3}, g);
      if (heatMarks[r][c]) {
        label(cx(c), cy(r) + 5.2, heatMarks[r][c], {'font-size': 24, 'text-anchor': 'middle', fill: '#1F1F7A', style: 'dominant-baseline:alphabetic'}, g);
      }
    });
  });
  heatCols.forEach((name, c) => {
    mk('line', {x1: cx(c), x2: cx(c), y1: 645, y2: 649, stroke: '#e3e3e3'}, g);
    mk('line', {x1: cx(c), x2: cx(c), y1: 970, y2: 974, stroke: '#e3e3e3'}, g);
    const px = cx(c) + 4, py = 986;
    const t = label(px, py, name, {'font-size': 15.5, 'text-anchor': 'end', fill: '#4d4d4d', transform: `rotate(-45 ${px} ${py})`}, g);
    
    
  });
  const by = linear(.1, 810.3, -.15, 922.3);
  colorbarTicks.forEach(v => {
    mk('line', {x1: 1608.6, x2: 1614, y1: by(v), y2: by(v), stroke: '#fff'}, g);
    mk('line', {x1: 1630.5, x2: 1636, y1: by(v), y2: by(v), stroke: '#fff'}, g);
    label(1644, by(v), fmt(v, 2), {'font-size': 14.5, fill: '#111'}, g);
  });
})();
</script>
</body>
</html>
